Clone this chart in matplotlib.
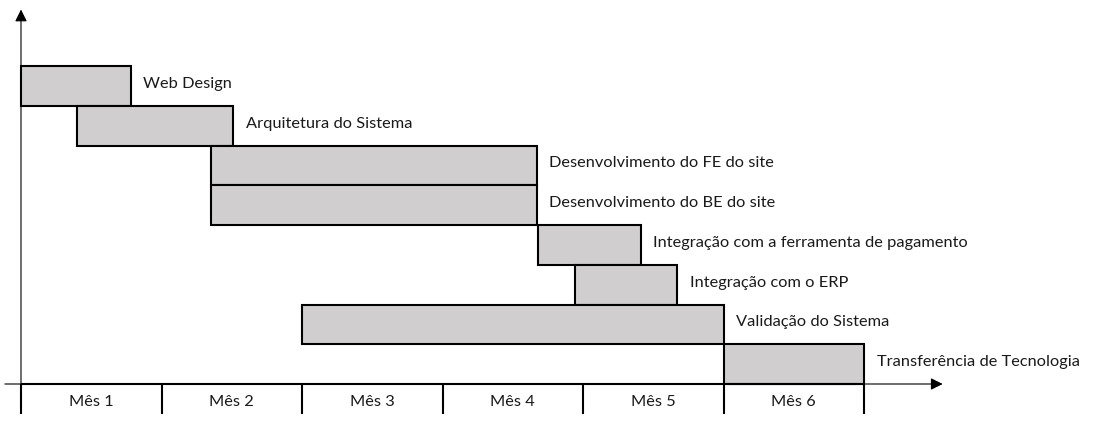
import matplotlib.pyplot as plt
from matplotlib.patches import Rectangle

plt.rcParams['font.family'] = ['Lato', 'DejaVu Sans']

tasks = ["Web Design", "Arquitetura do Sistema", "Desenvolvimento do FE do site",
         "Desenvolvimento do BE do site", "Integração com a ferramenta de pagamento",
         "Integração com o ERP", "Validação do Sistema", "Transferência de Tecnologia"]
starts = [0.0, 0.40, 1.35, 1.35, 3.68, 3.94, 2.0, 5.0]
ends = [0.78, 1.51, 3.67, 3.67, 4.41, 4.67, 5.0, 6.0]
months = ["Mês 1", "Mês 2", "Mês 3", "Mês 4", "Mês 5", "Mês 6"]

W, H = 1098, 433
x0_px, month_px = 21, 140.5
y0_px, row_px = 66, 39.75


def main():
    fig = plt.figure(figsize=(W / 100, H / 100), dpi=100)
    ax = fig.add_axes([0, 0, 1, 1])
    ax.set_xlim(-x0_px / month_px, (W - x0_px) / month_px)
    ax.set_ylim((H - y0_px) / row_px, -y0_px / row_px)
    ax.axis("off")

    # bars
    for i, (name, s, e) in enumerate(zip(tasks, starts, ends)):
        ax.add_patch(Rectangle((s, i), e - s, 1, facecolor="#d0cece",
                               edgecolor="black", linewidth=1.5, zorder=3))
        ax.text(e + 0.09, i + 0.45, name, ha="left", va="center",
                fontsize=11.8, color="#1a1a1a")

    # month cells under the axis (no bottom border)
    n = len(tasks)
    ax.hlines(n, 0, len(months), color="black", linewidth=1.5, zorder=4)
    ax.vlines(range(len(months) + 1), n, n + 0.755, color="black",
              linewidth=1.5, zorder=4)
    for j, m in enumerate(months):
        ax.text(j + 0.5, n + 0.45, m, ha="center", va="center",
                fontsize=11.8, color="#1a1a1a")

    # axes with arrows
    ax.annotate("", xy=(6.56, n), xytext=(-0.115, n),
                arrowprops=dict(arrowstyle="-|>", color="black", lw=0.8,
                                mutation_scale=18, shrinkA=0, shrinkB=0))
    ax.annotate("", xy=(0, -1.42), xytext=(0, n),
                arrowprops=dict(arrowstyle="-|>", color="black", lw=0.8,
                                mutation_scale=18, shrinkA=0, shrinkB=0))

    fig.savefig("out.png", dpi=100)


if __name__ == "__main__":
    main()
